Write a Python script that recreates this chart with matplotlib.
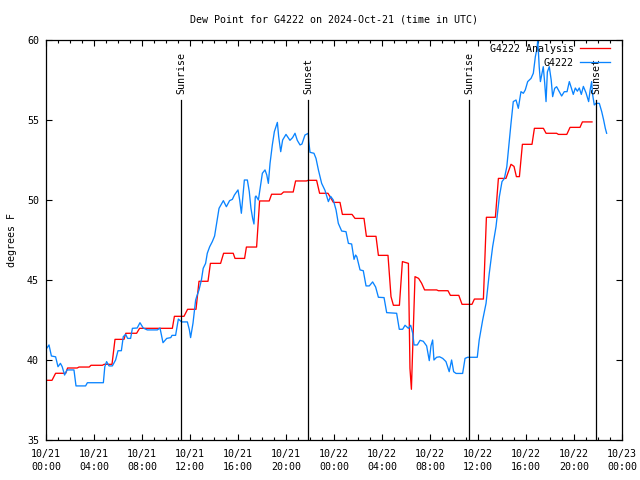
import datetime as dt
import matplotlib
matplotlib.use("Agg")
import matplotlib.pyplot as plt
import matplotlib.dates as mdates

plt.rcParams['font.family'] = ['DejaVu Sans Mono']
plt.rcParams['font.size'] = 7

BASE = dt.datetime(2024, 10, 21, 0, 0)

# G4222 Analysis (hours since 2024-10-21 00:00 UTC, degrees F)
analysis_hours = [0.0, 0.5, 0.8, 1.64, 1.8, 2.6, 2.75, 3.6, 3.75, 4.7, 4.85, 5.5, 5.75, 6.5,
                  6.65, 7.55, 7.8, 10.53, 10.7, 11.5, 11.8, 12.5, 12.75, 13.5, 13.7, 14.55,
                  14.8, 15.6, 15.75, 16.55, 16.7, 17.55, 17.8, 18.6, 18.8, 19.6, 19.8, 20.6,
                  20.8, 21.7, 21.85, 22.55, 22.8, 23.5, 23.95, 24.5, 24.7, 25.5, 25.75, 26.5,
                  26.7, 27.5, 27.7, 28.5, 28.75, 28.95, 29.45, 29.7, 30.2, 30.33, 30.45, 30.75,
                  31.05, 31.3, 31.55, 32.55, 32.7, 33.5, 33.7, 34.4, 34.67, 35.5, 35.7, 36.45,
                  36.7, 37.45, 37.7, 38.33, 38.75, 39.0, 39.2, 39.45, 39.7, 40.5, 40.7, 41.45,
                  41.67, 42.55, 42.7, 43.4, 43.67, 44.5, 44.7, 45.5]
analysis_vals = [38.73, 38.73, 39.17, 39.17, 39.5, 39.5, 39.56, 39.56, 39.67, 39.67, 39.73, 39.73,
                 41.29, 41.29, 41.67, 41.67, 41.98, 41.98, 42.73, 42.73, 43.17, 43.17, 44.92,
                 44.92, 46.04, 46.04, 46.67, 46.67, 46.35, 46.35, 47.06, 47.06, 49.94, 49.94,
                 50.36, 50.36, 50.5, 50.5, 51.19, 51.19, 51.23, 51.23, 50.42, 50.42, 49.85,
                 49.85, 49.1, 49.1, 48.85, 48.85, 47.73, 47.73, 46.54, 46.54, 43.96, 43.42,
                 43.42, 46.15, 46.04, 39.48, 38.17, 45.21, 45.1, 44.8, 44.38, 44.38, 44.33,
                 44.33, 44.04, 44.04, 43.48, 43.48, 43.81, 43.81, 48.92, 48.92, 51.35, 51.35,
                 52.23, 52.1, 51.46, 51.46, 53.48, 53.48, 54.48, 54.48, 54.17, 54.17, 54.1,
                 54.1, 54.54, 54.54, 54.88, 54.88]

# G4222 observations
obs_hours = [0.06, 0.25, 0.45, 0.8, 1.0, 1.2, 1.35, 1.55, 1.75, 2.33, 2.5, 3.3, 3.45, 4.78,
             4.9, 5.05, 5.25, 5.53, 5.8, 6.0, 6.28, 6.44, 6.64, 6.8, 7.05, 7.2, 7.6, 7.83,
             8.1, 8.44, 9.28, 9.5, 9.75, 10.06, 10.4, 10.5, 10.8, 11.03, 11.3, 11.78, 11.95,
             12.05, 12.25, 12.47, 12.6, 12.75, 12.95, 13.1, 13.3, 13.44, 13.64, 13.86, 14.05,
             14.2, 14.42, 14.78, 15.03, 15.3, 15.53, 15.7, 16.0, 16.14, 16.28, 16.4, 16.53,
             16.78, 16.94, 17.08, 17.22, 17.33, 17.44, 17.5, 17.7, 17.8, 18.03, 18.25, 18.4,
             18.53, 18.67, 18.86, 19.03, 19.17, 19.28, 19.39, 19.56, 19.72, 20.0, 20.33,
             20.55, 20.75, 20.94, 21.17, 21.33, 21.58, 21.86, 21.9, 22.0, 22.33, 22.5, 22.7,
             22.97, 23.25, 23.53, 23.72, 23.94, 24.17, 24.36, 24.64, 25.0, 25.2, 25.47,
             25.67, 25.8, 25.9, 26.17, 26.44, 26.67, 26.94, 27.22, 27.47, 27.7, 28.17, 28.39,
             29.22, 29.44, 29.72, 29.92, 30.2, 30.39, 30.56, 30.67, 30.94, 31.17, 31.44,
             31.72, 31.94, 32.08, 32.22, 32.33, 32.55, 32.8, 33.06, 33.33, 33.6, 33.8, 33.97,
             34.17, 34.72, 34.92, 35.14, 35.94, 36.1, 36.39, 36.67, 36.94, 37.22, 37.5,
             37.78, 38.0, 38.2, 38.4, 38.56, 38.75, 38.94, 39.17, 39.36, 39.58, 39.78, 39.94,
             40.14, 40.42, 40.61, 40.78, 40.92, 40.98, 41.1, 41.2, 41.33, 41.44, 41.56,
             41.67, 41.78, 41.94, 42.1, 42.22, 42.39, 42.55, 42.78, 42.97, 43.19, 43.42,
             43.61, 43.78, 43.94, 44.11, 44.28, 44.44, 44.61, 44.78, 45.0, 45.22, 45.35,
             45.47, 45.55, 45.69, 45.83, 46.11, 46.31, 46.47, 46.61, 46.72]
obs_vals = [40.73, 40.94, 40.25, 40.2, 39.58, 39.79, 39.58, 39.06, 39.38, 39.38, 38.38, 38.38,
            38.58, 38.58, 39.58, 39.9, 39.63, 39.63, 40.0, 40.58, 40.58, 41.46, 41.6, 41.35,
            41.35, 41.98, 42.0, 42.33, 42.0, 41.88, 41.88, 42.0, 41.08, 41.35, 41.4, 41.54,
            41.54, 42.56, 42.38, 42.38, 41.88, 41.4, 42.3, 43.75, 44.06, 44.38, 45.0, 45.73,
            46.04, 46.67, 47.08, 47.4, 47.75, 48.44, 49.48, 49.96, 49.58, 49.96, 50.04, 50.31,
            50.63, 50.0, 49.17, 50.19, 51.25, 51.25, 50.52, 49.48, 48.85, 48.5, 50.19, 50.25,
            50.0, 50.5, 51.67, 51.88, 51.56, 51.04, 52.29, 53.44, 54.27, 54.6, 54.85, 53.96,
            53.02, 53.75, 54.1, 53.73, 53.9, 54.17, 53.73, 53.44, 53.5, 54.06, 54.17, 53.65,
            52.98, 52.92, 52.6, 51.88, 51.04, 50.6, 49.9, 50.23, 50.0, 49.38, 48.54, 48.06,
            48.02, 47.29, 47.25, 46.29, 46.56, 46.46, 45.63, 45.58, 44.63, 44.63, 44.88,
            44.56, 43.92, 43.9, 42.96, 42.92, 41.92, 41.92, 42.17, 41.98, 42.17, 41.67, 40.94,
            40.94, 41.23, 41.17, 40.88, 39.96, 40.88, 41.25, 40.0, 40.17, 40.2, 40.1, 39.9,
            39.27, 40.0, 39.27, 39.16, 39.16, 40.1, 40.17, 40.17, 41.25, 42.5, 43.54, 45.42,
            47.08, 48.33, 50.21, 51.15, 51.35, 52.08, 53.33, 54.79, 56.15, 56.25, 55.73, 56.77,
            56.67, 56.88, 57.4, 57.6, 57.92, 58.96, 59.48, 60.0, 58.33, 57.4, 57.9, 58.33,
            57.29, 56.15, 58.0, 58.33, 57.5, 56.46, 56.98, 57.08, 56.77, 56.5, 56.77, 56.77,
            57.4, 57.0, 56.6, 57.0, 56.8, 57.0, 56.6, 57.1, 56.7, 56.15, 56.9, 57.4, 56.6,
            55.94, 56.04, 56.04, 55.52, 55.0, 54.48, 54.17]

sun_hours = [11.25, 21.83, 35.25, 45.83]
sun_labels = ["Sunrise", "Sunset", "Sunrise", "Sunset"]

title = "Dew Point for G4222 on 2024-Oct-21 (time in UTC)"
ylabel = "degrees F"


def to_time(hours):
    return [BASE + dt.timedelta(hours=h) for h in hours]


fig = plt.figure(figsize=(6.4, 4.8), dpi=100)
ax = fig.add_axes([46 / 640, 1 - 440 / 480, 576 / 640, 400 / 480])

ax.plot(to_time(analysis_hours), analysis_vals, color='#ff0000', lw=0.95,
        label='G4222 Analysis')
ax.plot(to_time(obs_hours), obs_vals, color='#0a84ff', lw=0.95, label='G4222')

for h, lab in zip(sun_hours, sun_labels):
    t = BASE + dt.timedelta(hours=h)
    ax.plot([t, t], [35, 56.25], color='black', lw=0.9)
    ax.text(t, 56.65, lab, rotation=90, ha='center', va='bottom', fontsize=7.2)

ax.set_xlim(BASE, BASE + dt.timedelta(hours=48))
ax.set_ylim(35, 60)
ax.set_yticks([35, 40, 45, 50, 55, 60])
ax.xaxis.set_major_locator(mdates.HourLocator(byhour=range(0, 24, 4)))
ax.xaxis.set_minor_locator(mdates.HourLocator())
ax.xaxis.set_major_formatter(mdates.DateFormatter('%m/%d\n%H:%M'))

ax.tick_params(axis='both', which='both', direction='in', top=True, right=True,
               width=0.8, labelsize=7.2)
ax.tick_params(axis='x', which='major', length=4.5, pad=6.5)
ax.tick_params(axis='x', which='minor', length=2.5)
ax.tick_params(axis='y', which='major', length=4.5, pad=5)
for lbl in ax.get_xticklabels():
    lbl.set_linespacing(1.4)
for sp in ax.spines.values():
    sp.set_linewidth(0.9)

ax.set_title(title, fontsize=7.2, pad=12.5)
ax.set_ylabel(ylabel, fontsize=7.2)
ax.yaxis.set_label_coords(-0.05, 0.5)

ax.legend(loc='upper right', bbox_to_anchor=(0.979, 0.99), frameon=False,
          markerfirst=False, handlelength=3.0, handletextpad=0.6, labelspacing=0.4,
          borderpad=0, borderaxespad=0, fontsize=7.2)

fig.savefig('out.png', dpi=100)
